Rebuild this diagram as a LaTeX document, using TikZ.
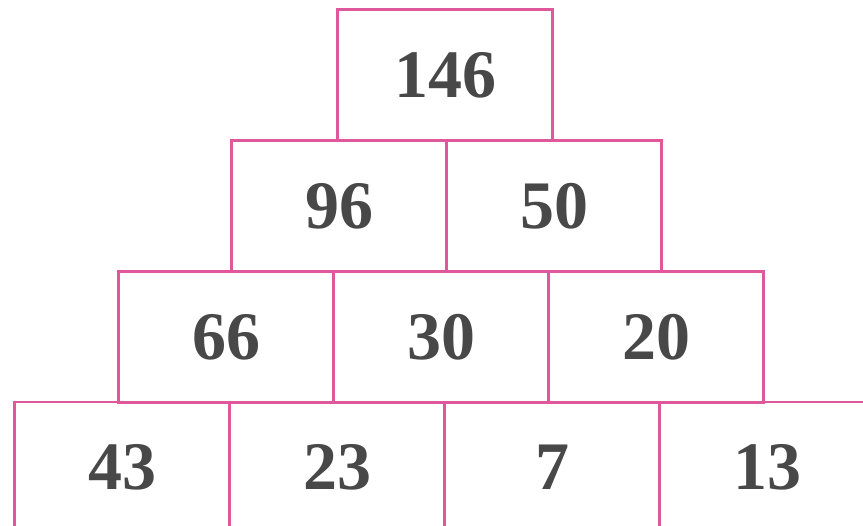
\documentclass[tikz,border=0pt]{standalone}
\usepackage{fontspec}
\setmainfont{Liberation Serif}
\definecolor{boxpink}{RGB}{224,88,156}
\definecolor{numgray}{RGB}{72,72,72}
\begin{document}
\begin{tikzpicture}[x=1pt,y=-1pt,
  cell/.style={draw=boxpink,line width=2.6pt,fill=white,minimum width=215pt,minimum height=131pt,inner sep=0pt,
    text=numgray,font=\fontsize{68}{70}\selectfont\bfseries}]
\useasboundingbox (0,0) rectangle (863,526);
\clip (0,0) rectangle (863,526);
\fill[white] (0,0) rectangle (863,526);
% row 4
\node[cell] (d1) at (122,467.5) {43};
\node[cell] (d2) at (337,467.5) {23};
\node[cell] (d3) at (552,467.5) {7};
\node[cell] (d4) at (767,467.5) {13};
% row 3
\node[cell] (c1) at (226,337) {66};
\node[cell] (c2) at (441,337) {30};
\node[cell] (c3) at (656,337) {20};
% row 2
\node[cell] (b1) at (339,206) {96};
\node[cell] (b2) at (554,206) {50};
% top
\node[cell] (a1) at (445,75) {146};
\end{tikzpicture}
\end{document}
